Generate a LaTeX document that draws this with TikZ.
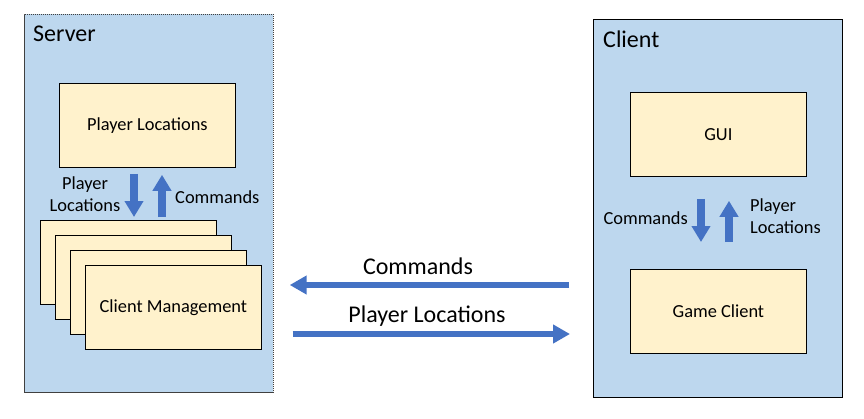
\documentclass[tikz,border=0pt]{standalone}
\usepackage{fontspec}
\setmainfont{Carlito}
\usetikzlibrary{arrows.meta}
\definecolor{panelblue}{RGB}{189,215,238}
\definecolor{boxyellow}{RGB}{255,242,204}
\definecolor{arrowblue}{RGB}{68,114,196}
\begin{document}
\begin{tikzpicture}[x=1pt,y=-1pt,
 panel/.style={draw, fill=panelblue, anchor=north west, inner sep=0, line width=0.8pt, minimum width=249pt, minimum height=378pt},
 comp/.style={draw, fill=boxyellow, anchor=north west, minimum width=176pt, minimum height=84pt, inner sep=0, line width=0.8pt, font=\fontsize{18.4}{22}\selectfont},
 varrow/.style={arrowblue, line width=7.5pt, -{Triangle[width=18pt,length=16pt]}},
 harrow/.style={arrowblue, line width=5.5pt, -{Triangle[width=18pt,length=17pt]}},
 lbl/.style={font=\fontsize{18.4}{22.5}\selectfont, inner sep=0},
 biglbl/.style={font=\fontsize{24}{28}\selectfont, inner sep=0},
]
\useasboundingbox (0,0) rectangle (864,418);
% panels
\node[panel, draw=black!75, dash pattern=on 1.2pt off 0.8pt, line width=0.7pt] (server) at (24,14) {};
\node[panel] (client) at (593,19) {};
\node[biglbl, anchor=west] (servertitle) at (33,34) {Server};
\node[biglbl, anchor=west] (clienttitle) at (603,39) {Client};
% server components
\node[comp] (pl) at (59,83) {Player Locations};
\node[comp] (cma) at (40,220) {};
\node[comp] (cmb) at (55,235) {};
\node[comp] (cmc) at (70,250) {};
\node[comp] (cmd) at (85,265) {Client Management};
% client components
\node[comp] (gui) at (630,92) {GUI};
\node[comp] (gc) at (630,269) {Game Client};
% server internal arrows
\draw[varrow, shorten <=6pt, shorten >=3pt] (pl.south -| 134,0) -- (cma.north -| 134,0);
\draw[varrow, shorten <=3pt, shorten >=7pt] (cma.north -| 162,0) -- (pl.south -| 162,0);
\node[lbl, align=center] (slpl) at (85,194) {Player\\Locations};
\node[lbl, anchor=west] (slcmd) at (175,197) {Commands};
% client internal arrows
\draw[varrow, shorten <=22pt, shorten >=27pt] (gui.south -| 701,0) -- (gc.north -| 701,0);
\draw[varrow, shorten <=27pt, shorten >=24pt] (gc.north -| 729,0) -- (gui.south -| 729,0);
\node[lbl, anchor=east] (clcmd) at (688,218) {Commands};
\node[lbl, align=left, anchor=west] (clpl) at (750,216) {Player\\Locations};
% network arrows
\draw[harrow, shorten <=24pt, shorten >=16pt] (client.west |- 0,285) -- (server.east |- 0,285);
\draw[harrow, shorten <=19pt, shorten >=23pt] (server.east |- 0,334) -- (client.west |- 0,334);
\node[biglbl] (ncmd) at (418,266) {Commands};
\node[biglbl] (npl) at (427,316) {Player Locations};
\end{tikzpicture}
\end{document}
